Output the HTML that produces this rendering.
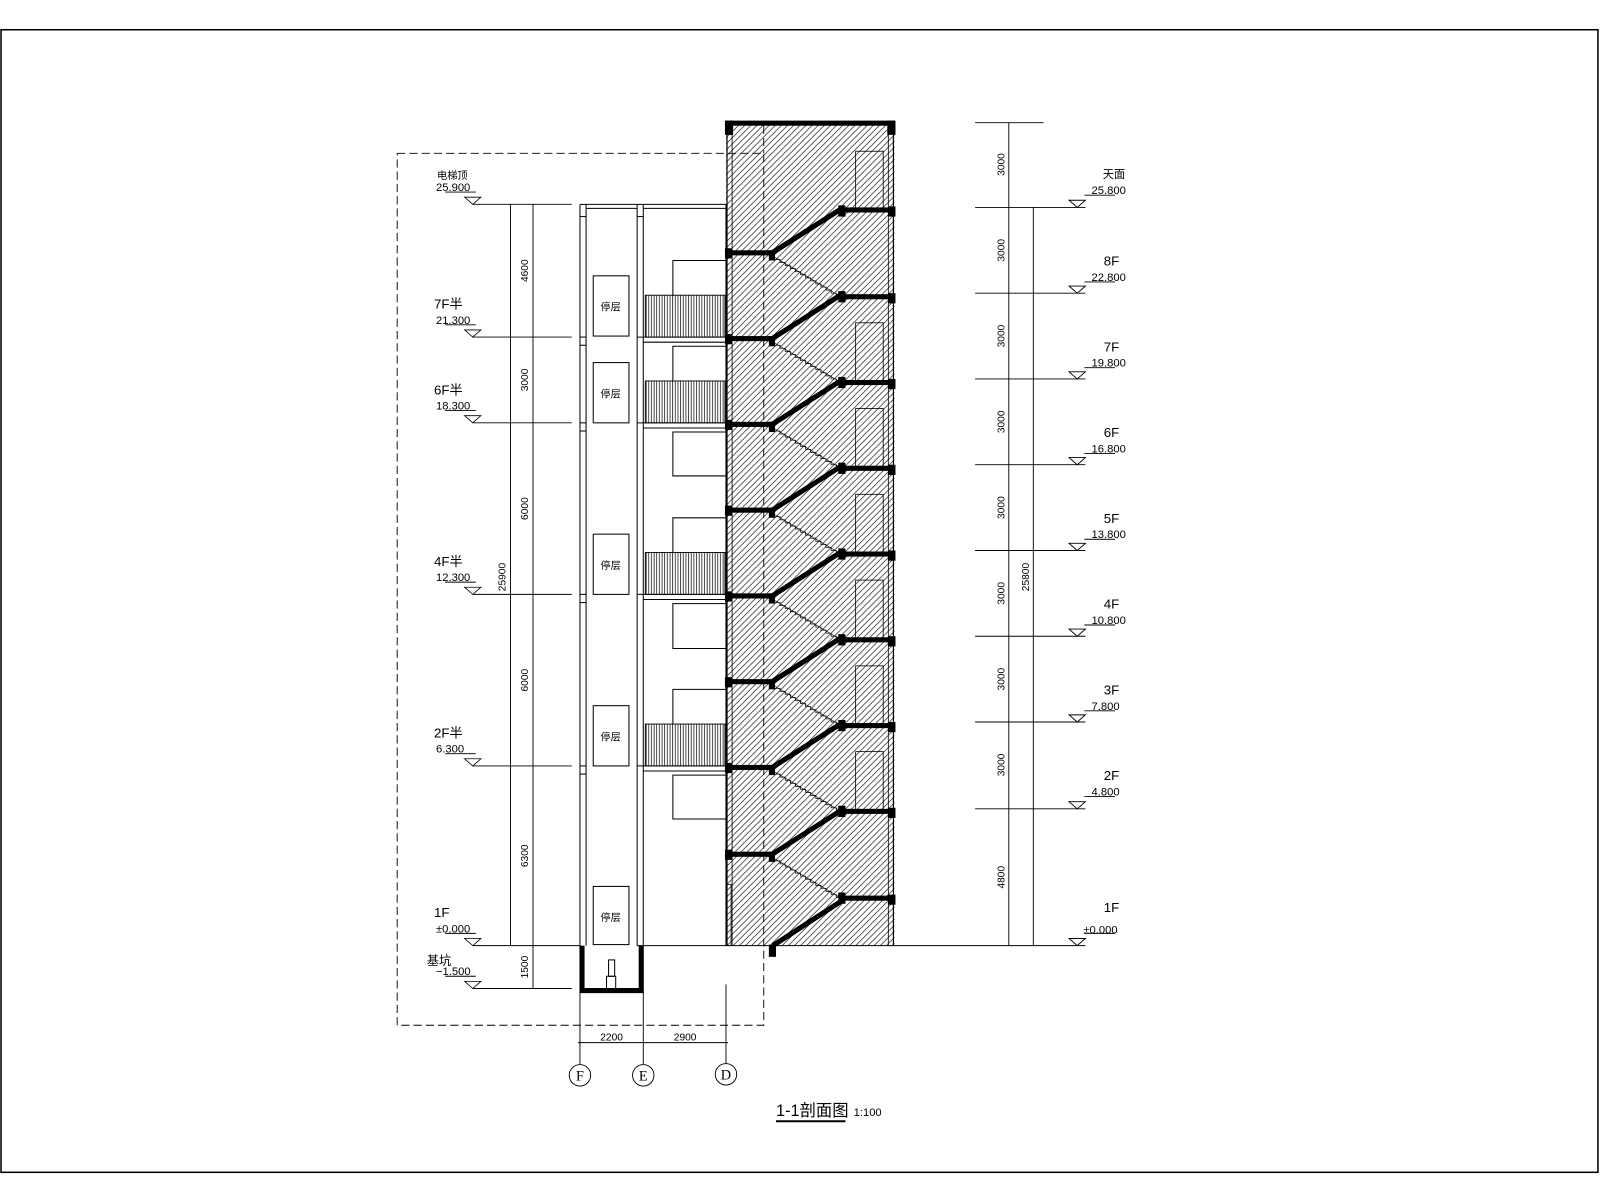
<!DOCTYPE html>
<html><head><meta charset="utf-8">
<style>
html,body{margin:0;padding:0;background:#fff;}
svg{display:block;}
text{font-family:"Liberation Sans","Noto Sans CJK SC",sans-serif;fill:#000;}
</style></head>
<body>
<svg width="1600" height="1200" viewBox="0 0 1567 1175" xmlns="http://www.w3.org/2000/svg">
<defs>
<pattern id="h" width="6" height="6" patternUnits="userSpaceOnUse">
<path d="M-1,7 L7,-1 M5,7 L7,5 M-1,1 L1,-1" stroke="#000" stroke-width="0.6"/>
</pattern>
<pattern id="r" width="2.6" height="10" patternUnits="userSpaceOnUse">
<line x1="1" y1="0" x2="1" y2="10" stroke="#000" stroke-width="0.7"/>
</pattern>
<g id="fl">
<rect x="711" y="-2" width="46" height="5" fill="#000"/>
<rect x="710" y="-4" width="7" height="10" fill="#000"/>
<rect x="753" y="-2" width="6" height="10" fill="#000"/>
<path d="M757,0 L823,-42" stroke="#000" stroke-width="5" fill="none"/>
<path d="M759,5 L823,43" stroke="#000" stroke-width="0.6" fill="none"/>
<path d="M759,7 L764,7 L764,10 L769,10 L769,13 L774,13 L774,16 L779,16 L779,19 L784,19 L784,22 L789,22 L789,25 L794,25 L794,28 L799,28 L799,31 L804,31 L804,34 L809,34 L809,37 L814,37 L814,40 L819,40 L819,43 L823,43" stroke="#000" stroke-width="0.7" fill="none"/>
<rect x="823" y="41" width="53" height="5" fill="#000"/>
<rect x="821" y="38" width="7" height="11" fill="#000"/>
<rect x="870" y="40" width="7" height="10" fill="#000"/>
</g>
</defs>

<rect x="1" y="29" width="1564" height="1119" fill="none" stroke="#000" stroke-width="1.5"/>

<path d="M389,150 L748,150 L748,1004 L389,1004 Z" fill="none" stroke="#000" stroke-width="0.9" stroke-dasharray="8,4"/>

<rect x="711" y="120" width="165" height="806" fill="url(#h)"/>
<line x1="717" y1="120" x2="717" y2="926" stroke="#000" stroke-width="0.8"/>
<line x1="870" y1="120" x2="870" y2="926" stroke="#000" stroke-width="0.8"/>
<line x1="712" y1="120" x2="712" y2="926" stroke="#000" stroke-width="1.2"/>
<line x1="875" y1="120" x2="875" y2="926" stroke="#000" stroke-width="1.2"/>
<rect x="711" y="118" width="165" height="5" fill="#000"/>
<rect x="710" y="118" width="8" height="14" fill="#000"/>
<rect x="869" y="118" width="8" height="14" fill="#000"/>
<line x1="748" y1="123" x2="748" y2="150" stroke="#000" stroke-width="0.9" stroke-dasharray="8,4"/>
<g fill="none" stroke="#000" stroke-width="0.8">
<rect x="838" y="148" width="27" height="57"/>
<rect x="838" y="316" width="27" height="58"/>
<rect x="838" y="400" width="27" height="58"/>
<rect x="838" y="484" width="27" height="58"/>
<rect x="838" y="568" width="27" height="58"/>
<rect x="838" y="652" width="27" height="58"/>
<rect x="838" y="736" width="27" height="58"/>
<rect x="712" y="866" width="4" height="60"/>
</g>
<rect x="823" y="203" width="53" height="5" fill="#000"/>
<rect x="821" y="201" width="7" height="11" fill="#000"/>
<rect x="870" y="202" width="7" height="10" fill="#000"/>
<use href="#fl" transform="translate(0,247)"/>
<use href="#fl" transform="translate(0,331)"/>
<use href="#fl" transform="translate(0,415)"/>
<use href="#fl" transform="translate(0,499)"/>
<use href="#fl" transform="translate(0,583)"/>
<use href="#fl" transform="translate(0,667)"/>
<use href="#fl" transform="translate(0,751)"/>
<use href="#fl" transform="translate(0,836)"/>
<path d="M757,926 L823,883" stroke="#000" stroke-width="5" fill="none"/>
<rect x="753" y="925" width="7" height="12" fill="#000"/>
<line x1="624" y1="926" x2="1063" y2="926" stroke="#000" stroke-width="1"/>

<g stroke="#000" stroke-width="1" fill="none">
<line x1="568" y1="200" x2="568" y2="926"/>
<line x1="574" y1="200" x2="574" y2="926"/>
<line x1="624" y1="200" x2="624" y2="926"/>
<line x1="630" y1="200" x2="630" y2="926"/>
<line x1="568" y1="200" x2="711" y2="200"/>
<line x1="574" y1="204" x2="624" y2="204"/>
<line x1="630" y1="204" x2="711" y2="204"/>
<line x1="568" y1="212" x2="574" y2="212"/><line x1="624" y1="212" x2="630" y2="212"/>
<line x1="568" y1="330" x2="574" y2="330"/><line x1="568" y1="338" x2="574" y2="338"/>
<line x1="568" y1="414" x2="574" y2="414"/><line x1="568" y1="422" x2="574" y2="422"/>
<line x1="568" y1="582" x2="574" y2="582"/><line x1="568" y1="590" x2="574" y2="590"/>
<line x1="568" y1="750" x2="574" y2="750"/><line x1="568" y1="758" x2="574" y2="758"/>
<rect x="581" y="270" width="35" height="59"/>
<rect x="581" y="355" width="35" height="59"/>
<rect x="581" y="523" width="35" height="59"/>
<rect x="581" y="691" width="35" height="59"/>
<rect x="581" y="868" width="35" height="57"/>
<rect x="596" y="940" width="6" height="16"/>
<rect x="594" y="956" width="9" height="12"/>
</g>
<g font-size="10" text-anchor="middle">
<text x="598" y="304">停层</text><text x="598" y="389">停层</text><text x="598" y="557">停层</text><text x="598" y="725">停层</text><text x="598" y="902">停层</text>
</g>
<path d="M570,926 L570,970 L628,970 L628,926" stroke="#000" stroke-width="5" fill="none"/>

<g stroke="#000" stroke-width="1" fill="none">
<line x1="624" y1="330" x2="711" y2="330"/><line x1="630" y1="335" x2="711" y2="335"/>
<line x1="624" y1="414" x2="711" y2="414"/><line x1="630" y1="419" x2="711" y2="419"/>
<line x1="624" y1="582" x2="711" y2="582"/><line x1="630" y1="587" x2="711" y2="587"/>
<line x1="624" y1="750" x2="711" y2="750"/><line x1="630" y1="755" x2="711" y2="755"/>
<path d="M659,290 L659,255 L711,255"/>
<path d="M659,373 L659,339 L711,339"/>
<path d="M711,466 L659,466 L659,423 L711,423"/>
<path d="M659,541 L659,507 L711,507"/>
<path d="M711,635 L659,635 L659,591 L711,591"/>
<path d="M659,709 L659,675 L711,675"/>
<path d="M711,802 L659,802 L659,759 L711,759"/>
<path d="M711,200 L711,926"/>
</g>
<g stroke="#000" stroke-width="0.9">
<rect x="632" y="289" width="78" height="41" fill="url(#r)"/>
<rect x="632" y="373" width="78" height="41" fill="url(#r)"/>
<rect x="632" y="541" width="78" height="41" fill="url(#r)"/>
<rect x="632" y="709" width="78" height="41" fill="url(#r)"/>
</g>

<g stroke="#000" stroke-width="0.9" fill="none">
<line x1="463" y1="200" x2="560" y2="200"/>
<line x1="463" y1="330" x2="560" y2="330"/>
<line x1="463" y1="414" x2="560" y2="414"/>
<line x1="463" y1="582" x2="560" y2="582"/>
<line x1="463" y1="750" x2="560" y2="750"/>
<line x1="463" y1="926" x2="568" y2="926"/>
<line x1="463" y1="968" x2="560" y2="968"/>
<line x1="500" y1="200" x2="500" y2="926"/>
<line x1="522" y1="200" x2="522" y2="968"/>
<line x1="436" y1="188" x2="466" y2="188"/>
<line x1="436" y1="318" x2="466" y2="318"/>
<line x1="436" y1="402" x2="466" y2="402"/>
<line x1="436" y1="570" x2="466" y2="570"/>
<line x1="436" y1="738" x2="466" y2="738"/>
<line x1="436" y1="914" x2="466" y2="914"/>
<line x1="436" y1="956" x2="466" y2="956"/>
</g>
<g fill="none" stroke="#000" stroke-width="0.8">
<path d="M455,193 L471,193 L463,200 Z"/>
<path d="M455,323 L471,323 L463,330 Z"/>
<path d="M455,407 L471,407 L463,414 Z"/>
<path d="M455,575 L471,575 L463,582 Z"/>
<path d="M455,743 L471,743 L463,750 Z"/>
<path d="M455,919 L471,919 L463,926 Z"/>
<path d="M455,961 L471,961 L463,968 Z"/>
</g>
<g font-size="11">
<text x="428" y="175" font-size="10">电梯顶</text><text x="427" y="187">25.900</text>
<text x="425" y="302" font-size="13">7F半</text><text x="427" y="317">21.300</text>
<text x="425" y="386" font-size="13">6F半</text><text x="427" y="401">18.300</text>
<text x="425" y="554" font-size="13">4F半</text><text x="427" y="569">12.300</text>
<text x="425" y="722" font-size="13">2F半</text><text x="427" y="737">6.300</text>
<text x="425" y="898" font-size="13">1F</text><text x="427" y="913">±0.000</text>
<text x="418" y="945" font-size="12">基坑</text><text x="427" y="955">−1.500</text>
</g>
<g font-size="10" text-anchor="middle">
<text transform="translate(517,265) rotate(-90)">4600</text>
<text transform="translate(517,372) rotate(-90)">3000</text>
<text transform="translate(517,498) rotate(-90)">6000</text>
<text transform="translate(517,666) rotate(-90)">6000</text>
<text transform="translate(517,838) rotate(-90)">6300</text>
<text transform="translate(517,947) rotate(-90)">1500</text>
<text transform="translate(495,565) rotate(-90)">25900</text>
</g>

<g stroke="#000" stroke-width="0.9" fill="none">
<line x1="955" y1="120" x2="1022" y2="120"/>
<line x1="955" y1="203" x2="1063" y2="203"/>
<line x1="955" y1="287" x2="1063" y2="287"/>
<line x1="955" y1="371" x2="1063" y2="371"/>
<line x1="955" y1="455" x2="1063" y2="455"/>
<line x1="955" y1="539" x2="1063" y2="539"/>
<line x1="955" y1="623" x2="1063" y2="623"/>
<line x1="955" y1="707" x2="1063" y2="707"/>
<line x1="955" y1="792" x2="1063" y2="792"/>
<line x1="988" y1="120" x2="988" y2="926"/>
<line x1="1012" y1="203" x2="1012" y2="926"/>
<line x1="1062" y1="191" x2="1092" y2="191"/>
<line x1="1062" y1="276" x2="1092" y2="276"/>
<line x1="1062" y1="360" x2="1092" y2="360"/>
<line x1="1062" y1="444" x2="1092" y2="444"/>
<line x1="1062" y1="528" x2="1092" y2="528"/>
<line x1="1062" y1="612" x2="1092" y2="612"/>
<line x1="1062" y1="696" x2="1092" y2="696"/>
<line x1="1062" y1="780" x2="1092" y2="780"/>
<line x1="1062" y1="914" x2="1092" y2="914"/>
<path d="M1047,196 L1063,196 L1055,203 Z"/>
<path d="M1047,280 L1063,280 L1055,287 Z"/>
<path d="M1047,364 L1063,364 L1055,371 Z"/>
<path d="M1047,448 L1063,448 L1055,455 Z"/>
<path d="M1047,532 L1063,532 L1055,539 Z"/>
<path d="M1047,616 L1063,616 L1055,623 Z"/>
<path d="M1047,700 L1063,700 L1055,707 Z"/>
<path d="M1047,785 L1063,785 L1055,792 Z"/>
<path d="M1047,919 L1063,919 L1055,926 Z"/>
</g>
<g font-size="11">
<text x="1080" y="174" font-size="11">天面</text><text x="1069" y="190">25.800</text>
<text x="1081" y="260" font-size="13">8F</text><text x="1069" y="275">22.800</text>
<text x="1081" y="344" font-size="13">7F</text><text x="1069" y="359">19.800</text>
<text x="1081" y="428" font-size="13">6F</text><text x="1069" y="443">16.800</text>
<text x="1081" y="512" font-size="13">5F</text><text x="1069" y="527">13.800</text>
<text x="1081" y="596" font-size="13">4F</text><text x="1069" y="611">10.800</text>
<text x="1081" y="680" font-size="13">3F</text><text x="1069" y="695">7.800</text>
<text x="1081" y="764" font-size="13">2F</text><text x="1069" y="779">4.800</text>
<text x="1081" y="893" font-size="13">1F</text><text x="1061" y="914">±0.000</text>
</g>
<g font-size="10" text-anchor="middle">
<text transform="translate(984,161) rotate(-90)">3000</text>
<text transform="translate(984,245) rotate(-90)">3000</text>
<text transform="translate(984,329) rotate(-90)">3000</text>
<text transform="translate(984,413) rotate(-90)">3000</text>
<text transform="translate(984,497) rotate(-90)">3000</text>
<text transform="translate(984,581) rotate(-90)">3000</text>
<text transform="translate(984,665) rotate(-90)">3000</text>
<text transform="translate(984,749) rotate(-90)">3000</text>
<text transform="translate(984,859) rotate(-90)">4800</text>
<text transform="translate(1008,565) rotate(-90)">25800</text>
</g>

<g stroke="#000" stroke-width="0.9" fill="none">
<line x1="568" y1="970" x2="568" y2="1042"/>
<line x1="630" y1="970" x2="630" y2="1042"/>
<line x1="711" y1="964" x2="711" y2="1042"/>
<line x1="566" y1="1021" x2="713" y2="1021"/>
<circle cx="568" cy="1053" r="10.5"/>
<circle cx="630" cy="1053" r="10.5"/>
<circle cx="711" cy="1052" r="10.5"/>
</g>
<g font-size="10" text-anchor="middle">
<text x="599" y="1019">2200</text><text x="671" y="1019">2900</text>
</g>
<g font-size="14" text-anchor="middle">
<text x="568" y="1058" style="font-family:'Liberation Serif',serif">F</text>
<text x="630" y="1058" style="font-family:'Liberation Serif',serif">E</text>
<text x="711" y="1057" style="font-family:'Liberation Serif',serif">D</text>
</g>
<text x="760" y="1093" font-size="16">1-1剖面图</text>
<line x1="760" y1="1098" x2="828" y2="1098" stroke="#000" stroke-width="2"/>
<text x="836" y="1093" font-size="11">1:100</text>
</svg>
</body></html>
